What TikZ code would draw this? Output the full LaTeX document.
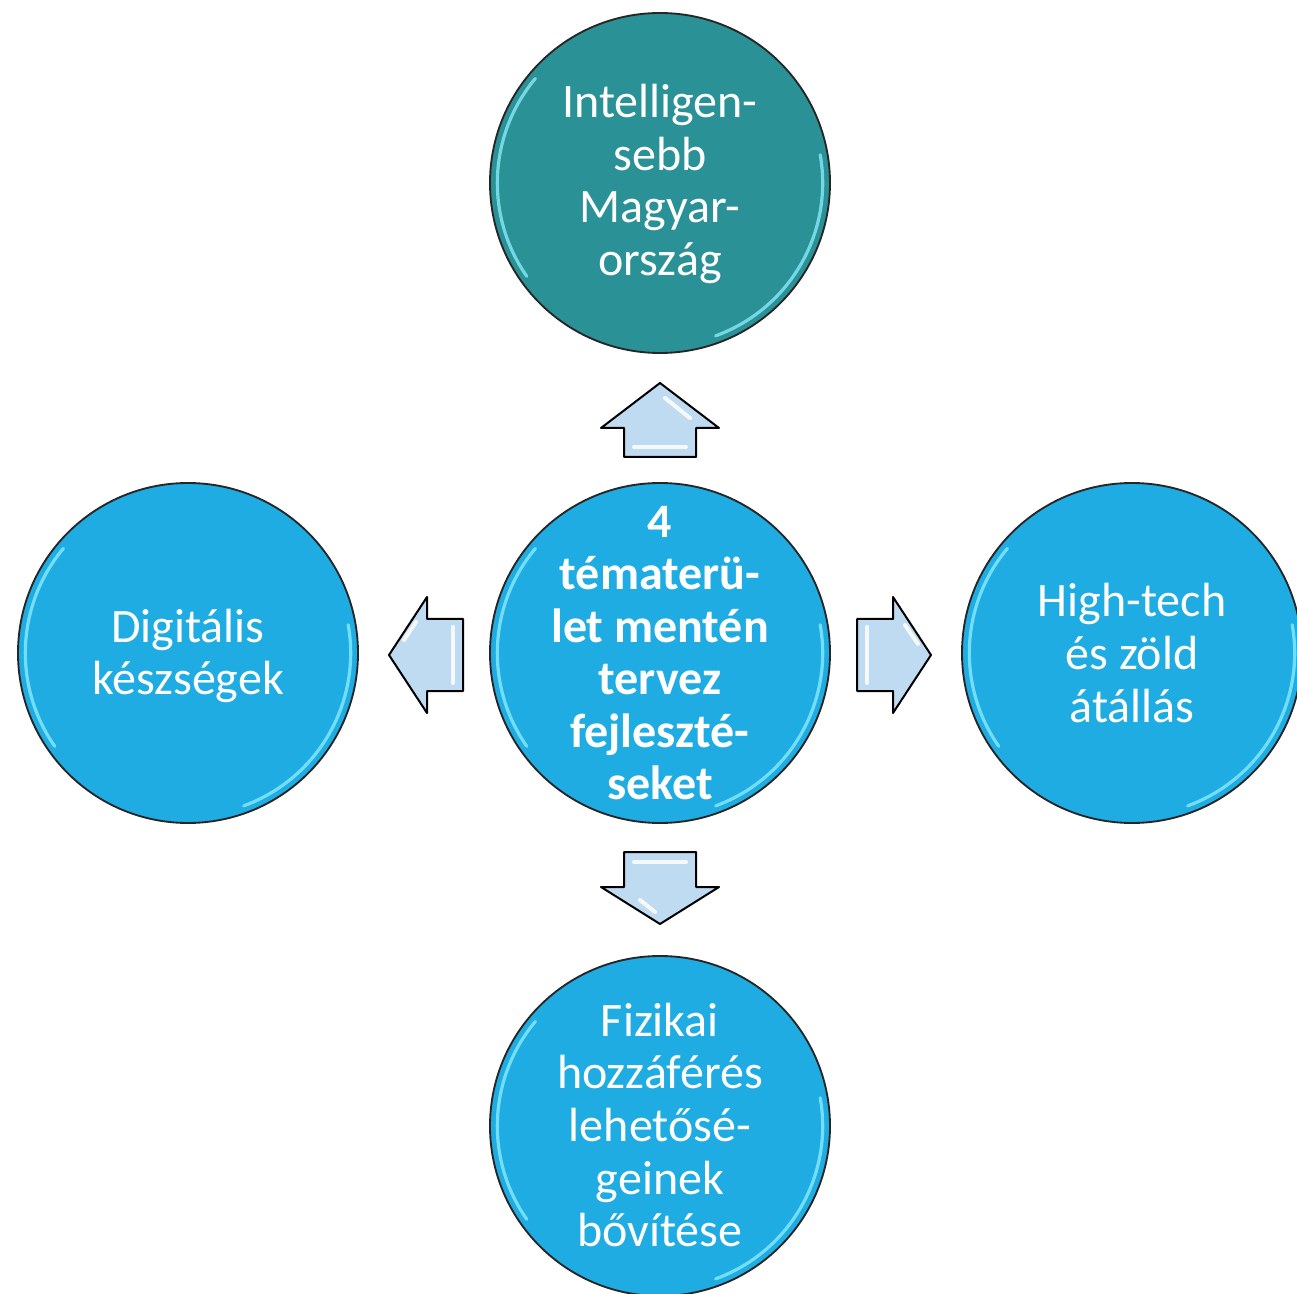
\documentclass[tikz,border=0pt]{standalone}
\usepackage{fontspec}
\setmainfont{Carlito}
\definecolor{tealc}{HTML}{2A9196}
\definecolor{bluec}{HTML}{1FACE2}
\definecolor{arrowc}{HTML}{BFDBF1}
\definecolor{glossc}{HTML}{8FEFFF}
\begin{document}
\begin{tikzpicture}[x=0.75pt,y=-0.75pt,
  bubble/.style={circle,draw=black!85,line width=1.4pt,minimum size=255pt,inner sep=0pt},
  label/.style={text=white,align=center,inner sep=0pt,font=\fontsize{36}{39.4}\selectfont},
  blockarrow/.style={draw=black,line width=1.5pt,fill=arrowc,line join=round},
  shine/.style={white,line width=3pt,opacity=.85,line cap=round},
  gloss/.style={glossc,line width=2.4pt,opacity=.75,line cap=round}]
\useasboundingbox (0,0) rectangle (1297,1294);
\clip (0,0) rectangle (1297,1294);
\fill[white] (0,0) rectangle (1297,1294);

\node[bubble,fill=tealc] (top) at (660,183) {};
\node[bubble,fill=bluec] (mid) at (660,653) {};
\node[bubble,fill=bluec] (left) at (188,653) {};
\node[bubble,fill=bluec] (right) at (1132,653) {};
\node[bubble,fill=bluec] (bot) at (660,1126) {};

% glossy rims
\foreach \n in {top,mid,left,right,bot}{
  \draw[gloss] (\n.center) ++(140:122pt) arc[start angle=140,end angle=215,radius=122pt];
  \draw[gloss] (\n.center) ++(-70:122pt) arc[start angle=-70,end angle=10,radius=122pt];
}

\node[label] (toptext) at (660,184) {Intelligen-\\sebb\\Magyar-\\ország};
\node[label,font=\fontsize{36}{39.4}\selectfont\bfseries] (midtext) at (660,653) {4\\tématerü-\\let mentén\\tervez\\fejleszté-\\seket};
\node[label] (lefttext) at (188,656) {Digitális\\készségek};
\node[label] (righttext) at (1132,653) {High-tech\\és zöld\\átállás};
\node[label] (bottext) at (660,1125) {Fizikai\\hozzáférés\\lehetősé-\\geinek\\bővítése};

% block arrows
\draw[blockarrow] (660,383) -- (719,428) -- (696,428) -- (696,457) -- (624,457) -- (624,428) -- (601,428) -- cycle;
\draw[blockarrow] (624,852) -- (696,852) -- (696,887) -- (719,887) -- (660,924) -- (601,887) -- (624,887) -- cycle;
\draw[blockarrow] (389,655) -- (427,597) -- (427,619) -- (463,619) -- (463,691) -- (427,691) -- (427,713) -- cycle;
\draw[blockarrow] (857,619) -- (893,619) -- (893,597) -- (931,655) -- (893,713) -- (893,691) -- (857,691) -- cycle;

% bevel shine
\draw[shine] (634,447) -- (686,447);
\draw[shine] (665,398) -- (690,418);
\draw[shine] (634,862) -- (686,862);
\draw[shine] (640,900) -- (655,912);
\draw[shine] (453,627) -- (453,683);
\draw[shine] (404,640) -- (416,622);
\draw[shine] (867,627) -- (867,683);
\draw[shine] (905,625) -- (918,644);
\end{tikzpicture}
\end{document}
